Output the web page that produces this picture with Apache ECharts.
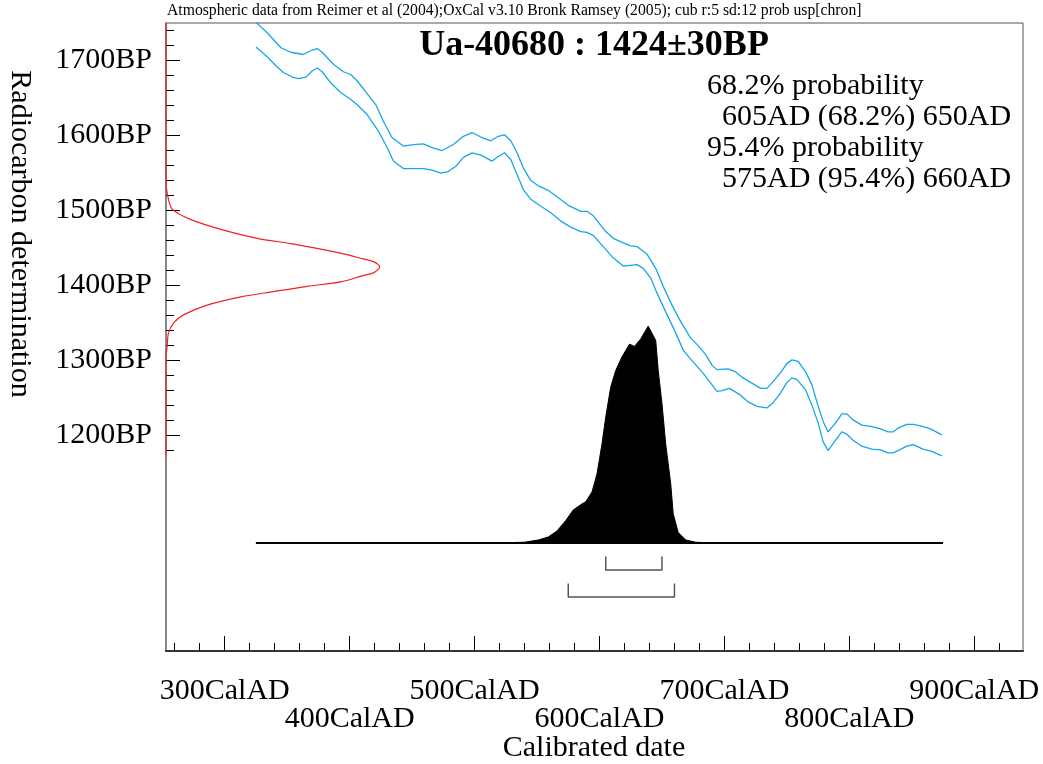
<!DOCTYPE html>
<html>
<head>
<meta charset="utf-8">
<script src="https://cdn.jsdelivr.net/npm/echarts@6/dist/echarts.min.js"></script>
<style>
  html, body { margin: 0; padding: 0; background: #fff; }
  #calPlot { width: 1043px; height: 764px; }
</style>
</head>
<body>
<div id="calPlot"></div>
<script>
// tick values
const xMajorTicks = [300, 400, 500, 600, 700, 800, 900];
const xMinorTicks = [260, 280, 300, 320, 340, 360, 380, 400, 420, 440, 460, 480, 500, 520, 540, 560, 580, 600,
  620, 640, 660, 680, 700, 720, 740, 760, 780, 800, 820, 840, 860, 880, 900, 920];
const yMajorTicks = [1200, 1300, 1400, 1500, 1600, 1700];
const yMinorTicks = [1180, 1200, 1220, 1240, 1260, 1280, 1300, 1320, 1340, 1360, 1380, 1400, 1420, 1440, 1460,
  1480, 1500, 1520, 1540, 1560, 1580, 1600, 1620, 1640, 1660, 1680, 1700, 1720, 1740];

// calibration curve (+1 sigma / -1 sigma), [calAD, BP]
const curveUpper = [[325,1750],[334,1736],[345,1716],[353,1710],[363,1707],[370,1713],[374,1715],[378,1710],
  [387,1694],[395,1684],[401,1680],[406,1672],[414,1655],[421,1640],[427,1618],[434,1596],[443,1585],[451,1587],
  [459,1588],[466,1583],[474,1579],[483,1587],[491,1598],[498,1603],[505,1597],[513,1592],[519,1598],[524,1600],
  [529,1592],[534,1576],[539,1556],[545,1539],[551,1532],[559,1526],[567,1516],[575,1506],[585,1498],[590,1498],
  [595,1492],[605,1471],[611,1462],[619,1456],[625,1452],[630,1451],[638,1441],[645,1422],[651,1398],[658,1373],
  [665,1351],[673,1329],[679,1319],[685,1307],[690,1293],[694,1287],[703,1288],[709,1284],[715,1276],[722,1269],
  [729,1262],[734,1262],[739,1271],[745,1283],[750,1295],[754,1300],[759,1298],[765,1284],[770,1267],[774,1244],
  [779,1218],[783,1204],[789,1216],[794,1228],[798,1228],[803,1220],[810,1213],[818,1211],[825,1208],[831,1204],
  [835,1204],[839,1209],[846,1214],[851,1214],[857,1212],[865,1208],[874,1200]];
const curveLower = [[325,1717],[334,1704],[341,1692],[347,1683],[354,1677],[359,1675],[365,1677],[370,1685],
  [374,1689],[378,1684],[385,1669],[393,1656],[401,1647],[406,1640],[414,1627],[423,1605],[430,1583],[435,1565],
  [443,1555],[451,1555],[459,1555],[466,1553],[473,1549],[479,1551],[485,1558],[491,1570],[498,1576],[505,1573],
  [514,1565],[519,1571],[524,1576],[529,1567],[534,1547],[539,1527],[545,1514],[551,1507],[561,1496],[569,1485],
  [577,1477],[585,1471],[590,1470],[595,1466],[603,1451],[611,1436],[619,1425],[630,1427],[635,1422],[641,1409],
  [645,1393],[653,1364],[661,1336],[667,1313],[673,1301],[683,1282],[689,1269],[694,1258],[698,1259],[704,1262],
  [713,1253],[719,1244],[726,1238],[734,1236],[739,1243],[745,1256],[750,1270],[754,1276],[758,1274],[765,1260],
  [770,1240],[775,1216],[779,1191],[783,1179],[789,1193],[794,1204],[798,1201],[803,1193],[810,1185],[818,1181],
  [825,1180],[831,1176],[835,1176],[839,1179],[846,1185],[851,1187],[859,1181],[866,1178],[874,1172]];

// radiocarbon date distribution drawn against the left axis, [x, BP]
const dateDist = [[253,1749],[253,1540],[254,1522],[258,1501],[273,1487],[299,1473],[326,1462],[353,1455],
  [379,1447],[396,1441],[410,1435],[419,1431],[423,1427],[424,1424],[423,1421],[419,1416],[410,1412],[393,1404],
  [366,1398],[339,1391],[313,1384],[286,1373],[267,1360],[259,1349],[255,1336],[254,1320],[253,1300],[253,1173]];

// calibrated distribution (height in BP units above the base line)
const calYears = [325,520,540,551,559,566,573,579,585,589,594,598,602,605,609,613,618,624,628,633,639,645,647,
  650,653,657,659,663,669,677,690,875];
const calProb = [0,0,1,4,8,16,30,44,51,55,68,92,132,168,208,230,248,265,262,272,289,270,230,186,132,79,39,14,4,
  1,0,0];
const calBase = 1056;

const range68 = [605, 650];
const range95 = [575, 660];

const serif = '"Liberation Serif", "Times New Roman", serif';
const xMin = 253, xMax = 939, yMin = 912, yMax = 1749;

function bracket(r, lvl) {
  return [[r[0], lvl + 18], [r[0], lvl], [r[1], lvl], [r[1], lvl + 18]];
}

function renderCal(params, api) {
  const pts = calYears.map((y, i) => api.coord([y, calBase + calProb[i]]));
  pts.unshift(api.coord([calYears[0], calBase]));
  pts.push(api.coord([calYears[calYears.length - 1], calBase]));
  return { type: 'polygon', shape: { points: pts }, style: { fill: '#000', stroke: '#000', lineWidth: 1 } };
}

const chart = echarts.init(document.getElementById('calPlot'));
chart.setOption({
  animation: false,
  backgroundColor: '#fff',
  grid: {
    left: 166, top: 23, width: 857, height: 628,
    show: true, borderColor: '#555', borderWidth: 1,
    outerBoundsMode: 'none',
  },
  xAxis: [
    {
      type: 'value', min: xMin, max: xMax, position: 'bottom',
      axisLine: { show: true, lineStyle: { color: '#333', width: 2 } },
      axisTick: { show: true, inside: true, length: 15, customValues: xMajorTicks, lineStyle: { color: '#000' } },
      axisLabel: {
        customValues: xMajorTicks.filter((v, i) => i % 2 === 0),
        formatter: (v) => v + 'CalAD',
        fontFamily: serif, fontSize: 30, color: '#000', margin: 25, hideOverlap: false,
      },
      splitLine: { show: false },
    },
    {
      type: 'value', min: xMin, max: xMax, position: 'bottom',
      axisLine: { show: false },
      axisTick: { show: true, inside: true, length: 8, customValues: xMinorTicks, lineStyle: { color: '#000' } },
      axisLabel: {
        customValues: xMajorTicks.filter((v, i) => i % 2 === 1),
        formatter: (v) => v + 'CalAD',
        fontFamily: serif, fontSize: 30, color: '#000', margin: 53, hideOverlap: false,
      },
      splitLine: { show: false },
    },
  ],
  yAxis: [
    {
      type: 'value', min: yMin, max: yMax, position: 'left',
      axisLine: { show: true, lineStyle: { color: '#888', width: 2 } },
      axisTick: { show: true, inside: true, length: 14, customValues: yMajorTicks, lineStyle: { color: '#000' } },
      axisLabel: {
        customValues: yMajorTicks,
        formatter: (v) => v + 'BP',
        fontFamily: serif, fontSize: 30, color: '#000', margin: 14,
      },
      splitLine: { show: false },
    },
    {
      type: 'value', min: yMin, max: yMax, position: 'left',
      axisLine: { show: false },
      axisTick: { show: true, inside: true, length: 8, customValues: yMinorTicks, lineStyle: { color: '#000' } },
      axisLabel: { show: false },
      splitLine: { show: false },
    },
  ],
  graphic: [
    {
      type: 'text', left: 167, top: 3,
      style: {
        text: 'Atmospheric data from Reimer et al (2004);OxCal v3.10 Bronk Ramsey (2005); cub r:5 sd:12 prob usp[chron]',
        fontFamily: serif, fontSize: 15.7, fill: '#000',
      },
    },
    {
      type: 'text', x: 594, y: 46,
      style: {
        text: 'Ua-40680 : 1424±30BP', fontFamily: serif, fontSize: 36, fontWeight: 'bold', fill: '#000',
        textAlign: 'center', textVerticalAlign: 'middle',
      },
    },
    {
      type: 'text', x: 707, y: 71,
      style: {
        text: '68.2% probability\n  605AD (68.2%) 650AD\n95.4% probability\n  575AD (95.4%) 660AD',
        fontFamily: serif, fontSize: 30, lineHeight: 31, fill: '#000',
      },
    },
    {
      type: 'text', x: 594, y: 748,
      style: {
        text: 'Calibrated date', fontFamily: serif, fontSize: 30, fill: '#000',
        textAlign: 'center', textVerticalAlign: 'middle',
      },
    },
    {
      type: 'text', x: 20, y: 234, rotation: -Math.PI / 2,
      style: {
        text: 'Radiocarbon determination', fontFamily: serif, fontSize: 30, fill: '#000',
        textAlign: 'center', textVerticalAlign: 'middle',
      },
    },
  ],
  series: [
    {
      type: 'line', data: curveUpper, showSymbol: false, clip: true,
      lineStyle: { color: '#17a6e8', width: 1.3 },
    },
    {
      type: 'line', data: curveLower, showSymbol: false, clip: true,
      lineStyle: { color: '#17a6e8', width: 1.3 },
    },
    {
      type: 'line', data: dateDist, showSymbol: false, smooth: 0.3, clip: true,
      lineStyle: { color: '#ee2222', width: 1.2 },
    },
    {
      type: 'custom', data: [[calYears[0], calBase]], renderItem: renderCal, clip: true,
    },
    {
      type: 'line', data: calYears.map((y) => [y, calBase]), showSymbol: false,
      lineStyle: { color: '#000', width: 2 },
    },
    {
      type: 'line', data: bracket(range68, 1020), showSymbol: false,
      lineStyle: { color: '#555', width: 1.5 },
    },
    {
      type: 'line', data: bracket(range95, 984), showSymbol: false,
      lineStyle: { color: '#555', width: 1.5 },
    },
  ],
});
</script>
</body>
</html>
